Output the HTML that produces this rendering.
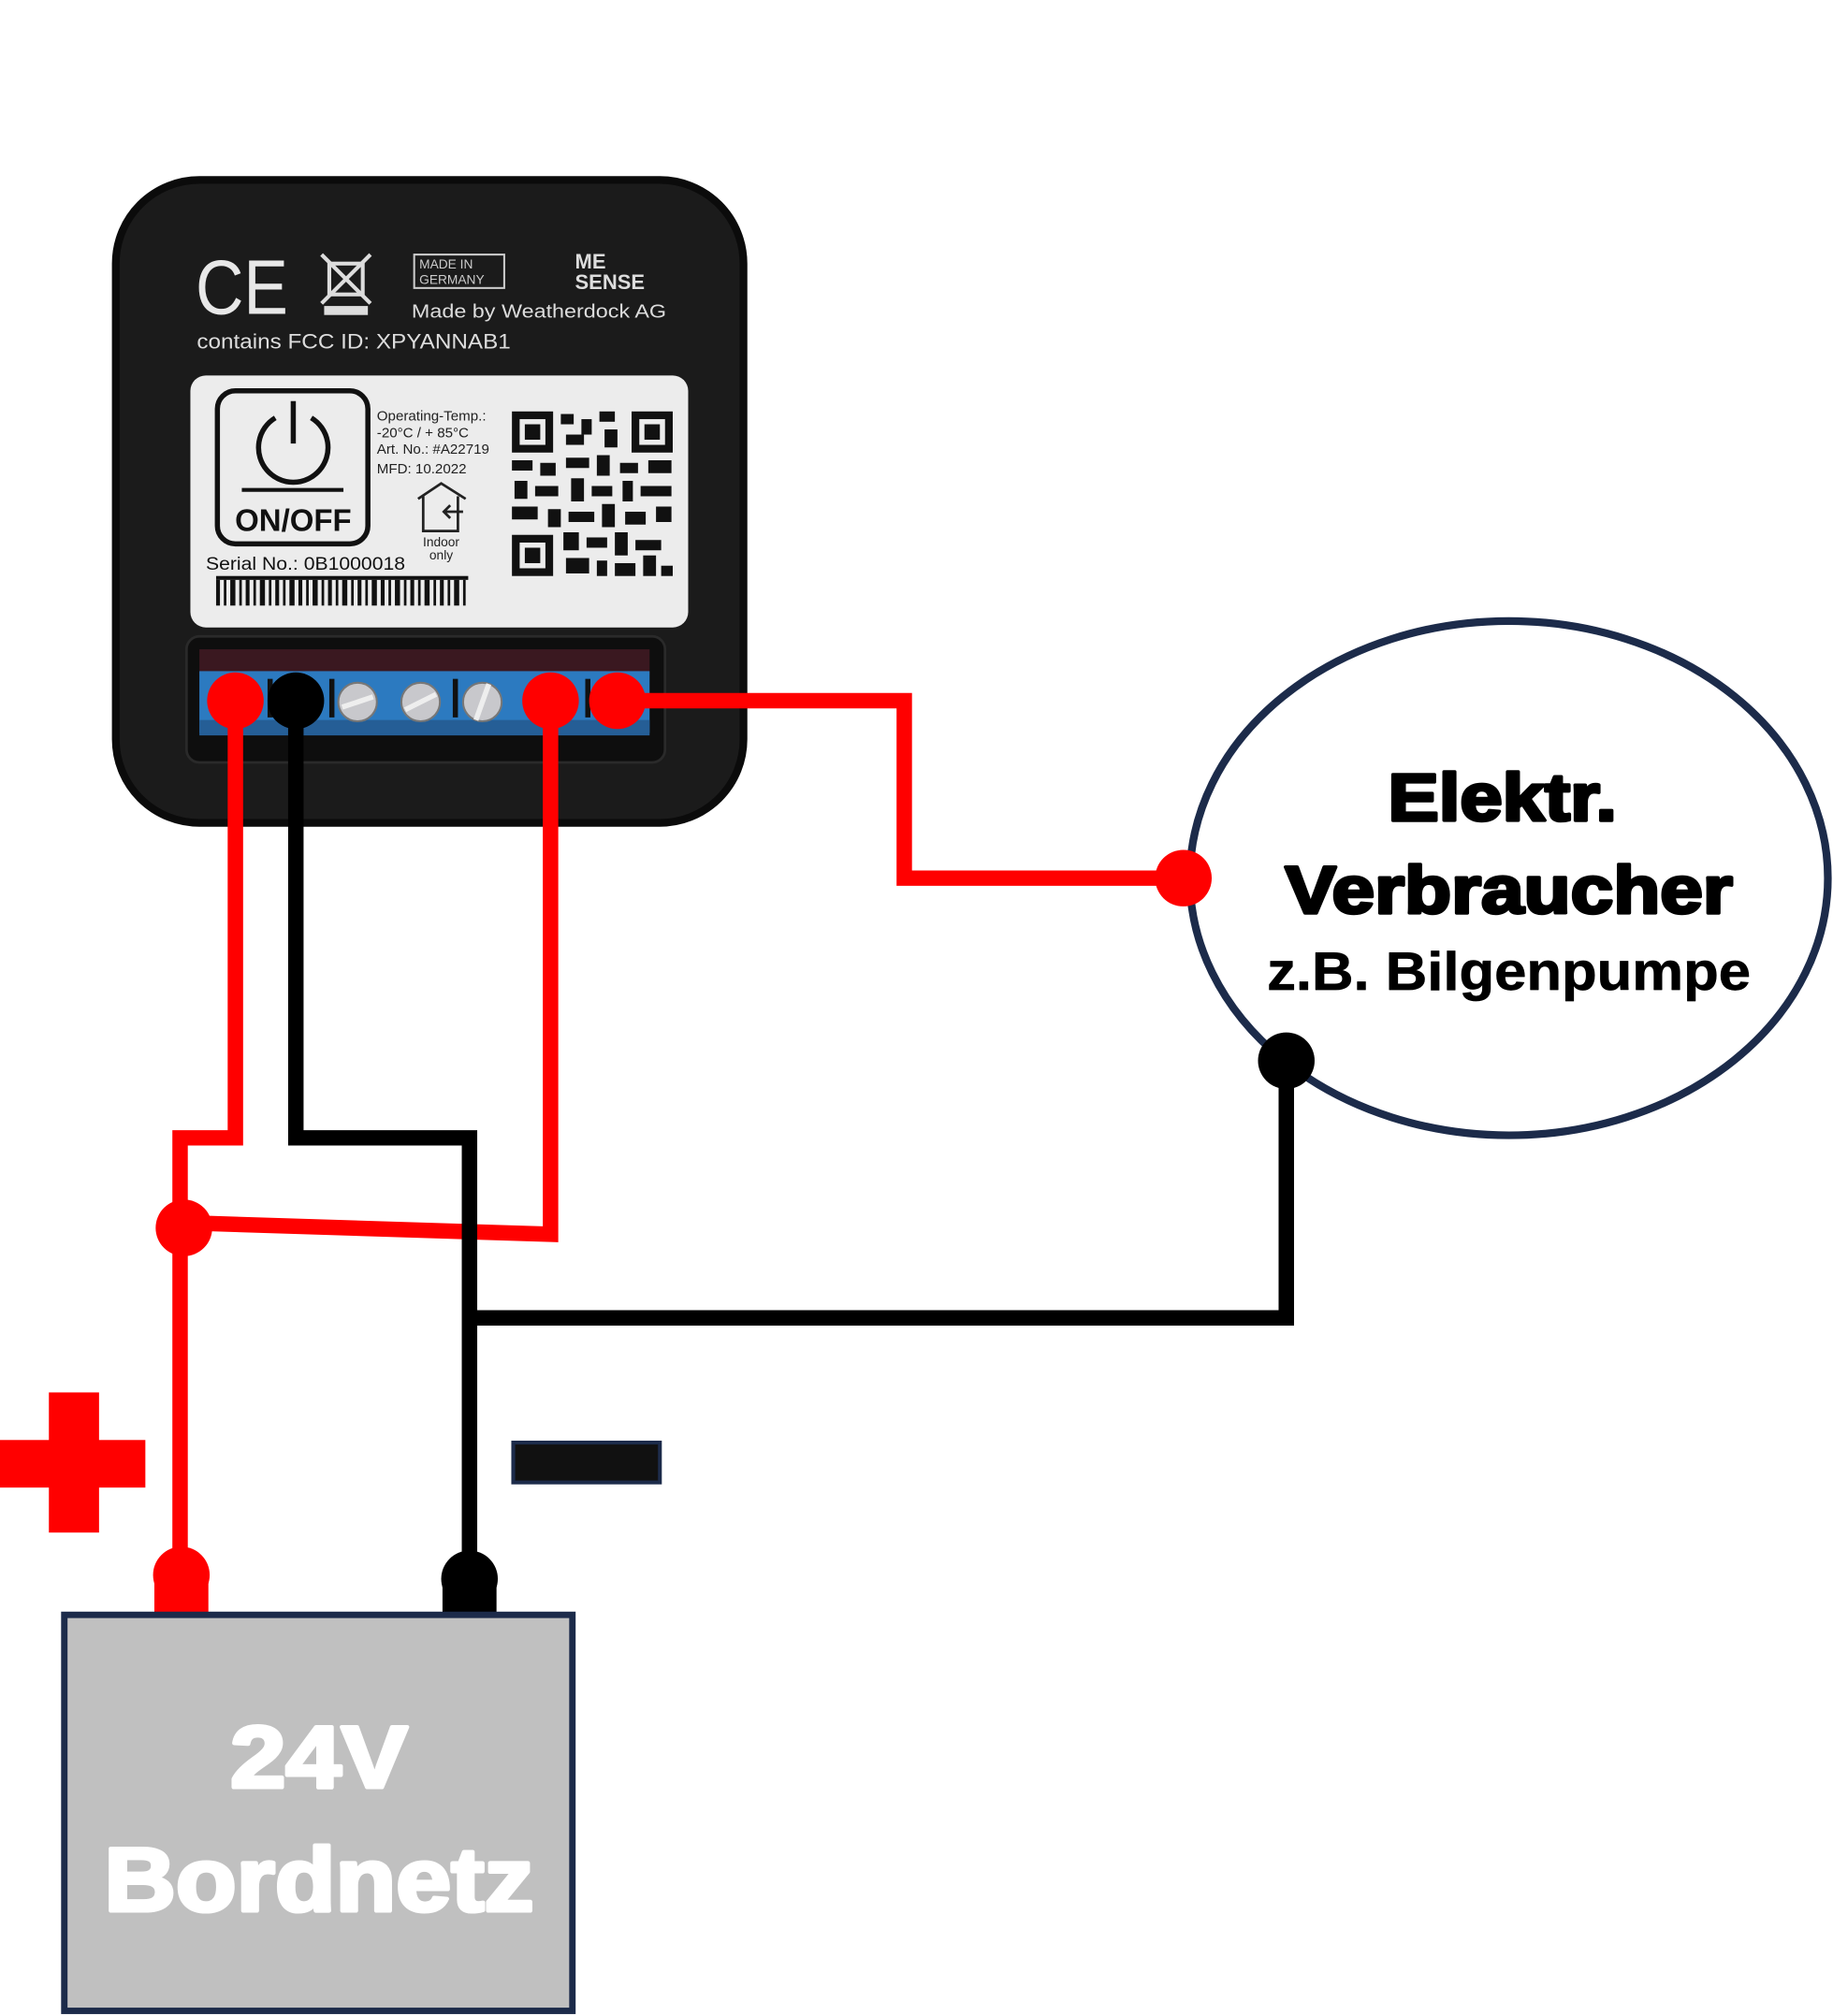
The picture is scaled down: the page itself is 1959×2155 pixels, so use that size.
<!DOCTYPE html>
<html><head><meta charset="utf-8"><style>
html,body{margin:0;padding:0;background:#fff;}
svg{display:block;}
text{font-family:"Liberation Sans",sans-serif;}
</style></head><body>
<svg width="1959" height="2155" viewBox="0 0 1425 1568" preserveAspectRatio="none" xmlns="http://www.w3.org/2000/svg">
<rect width="1425" height="1568" fill="#fff"/>
<!-- device -->
<rect x="90" y="140" width="488" height="500" rx="65" fill="#1b1b1b" stroke="#0b0b0b" stroke-width="6"/>
<text x="152" y="244" font-size="60" fill="#e8e8e8" textLength="72" lengthAdjust="spacingAndGlyphs">CE</text>
<g stroke="#ddd" stroke-width="3" fill="none"><rect x="256" y="205" width="26" height="24"/><line x1="250" y1="198" x2="288" y2="236"/><line x1="288" y1="198" x2="250" y2="236"/></g>
<rect x="252" y="238" width="34" height="7" fill="#ddd"/>
<rect x="322" y="198" width="70" height="26" fill="none" stroke="#ccc" stroke-width="1.5"/>
<text x="326" y="209" font-size="10" fill="#ccc">MADE IN</text>
<text x="326" y="221" font-size="10" fill="#ccc">GERMANY</text>
<text x="447" y="209" font-size="16" fill="#ddd" font-weight="bold">ME</text>
<text x="447" y="225" font-size="16" fill="#ddd" font-weight="bold">SENSE</text>
<text x="320" y="247" font-size="15" fill="#ddd" textLength="198" lengthAdjust="spacingAndGlyphs">Made by Weatherdock AG</text>
<text x="153" y="271" font-size="16" fill="#ddd" textLength="244" lengthAdjust="spacingAndGlyphs">contains FCC ID: XPYANNAB1</text>
<!-- label -->
<rect x="148" y="292" width="387" height="196" rx="12" fill="#ececec"/>
<rect x="169" y="304" width="117" height="119" rx="14" fill="none" stroke="#111" stroke-width="4"/>
<path d="M214 325 A27 27 0 1 0 242 325" fill="none" stroke="#111" stroke-width="4"/>
<line x1="228" y1="312" x2="228" y2="345" stroke="#111" stroke-width="4"/>
<line x1="188" y1="381" x2="267" y2="381" stroke="#111" stroke-width="3"/>
<text x="228" y="413" font-size="24" font-weight="bold" text-anchor="middle" fill="#111">ON/OFF</text>
<g font-size="11" fill="#222"><text x="293" y="327">Operating-Temp.:</text><text x="293" y="340">-20°C / + 85°C</text><text x="293" y="353">Art. No.: #A22719</text><text x="293" y="368">MFD: 10.2022</text></g>
<path d="M325 388 L343 376 L362 388 M329 386 V413 H356 V386 M360 398 H345 M350 393 L345 398 L350 403" fill="none" stroke="#222" stroke-width="2"/>
<text x="343" y="425" font-size="10" text-anchor="middle" fill="#222">Indoor</text>
<text x="343" y="435" font-size="10" text-anchor="middle" fill="#222">only</text>
<text x="160" y="443" font-size="14" fill="#111" textLength="155" lengthAdjust="spacingAndGlyphs">Serial No.: 0B1000018</text>
<g fill="#111">
<rect x="168" y="448" width="196" height="3"/>
<rect x="168" y="451" width="3" height="20"/><rect x="174" y="451" width="2" height="20"/><rect x="179" y="451" width="4" height="20"/><rect x="186" y="451" width="2" height="20"/><rect x="191" y="451" width="3" height="20"/><rect x="197" y="451" width="2" height="20"/><rect x="202" y="451" width="4" height="20"/><rect x="209" y="451" width="2" height="20"/><rect x="214" y="451" width="3" height="20"/><rect x="220" y="451" width="2" height="20"/><rect x="225" y="451" width="4" height="20"/><rect x="232" y="451" width="3" height="20"/><rect x="238" y="451" width="2" height="20"/><rect x="243" y="451" width="4" height="20"/><rect x="250" y="451" width="2" height="20"/><rect x="255" y="451" width="3" height="20"/><rect x="261" y="451" width="2" height="20"/><rect x="266" y="451" width="4" height="20"/><rect x="273" y="451" width="2" height="20"/><rect x="278" y="451" width="3" height="20"/><rect x="284" y="451" width="2" height="20"/><rect x="289" y="451" width="4" height="20"/><rect x="296" y="451" width="3" height="20"/><rect x="302" y="451" width="2" height="20"/><rect x="307" y="451" width="4" height="20"/><rect x="314" y="451" width="2" height="20"/><rect x="319" y="451" width="3" height="20"/><rect x="325" y="451" width="2" height="20"/><rect x="330" y="451" width="4" height="20"/><rect x="337" y="451" width="2" height="20"/><rect x="342" y="451" width="3" height="20"/><rect x="348" y="451" width="2" height="20"/><rect x="353" y="451" width="4" height="20"/><rect x="360" y="451" width="2" height="20"/>
</g>
<!-- QR -->
<g fill="#111">
<rect x="398" y="320" width="32" height="32"/><rect x="404" y="326" width="20" height="20" fill="#ececec"/><rect x="408" y="330" width="12" height="12"/>
<rect x="491" y="320" width="32" height="32"/><rect x="497" y="326" width="20" height="20" fill="#ececec"/><rect x="501" y="330" width="12" height="12"/>
<rect x="398" y="416" width="32" height="32"/><rect x="404" y="422" width="20" height="20" fill="#ececec"/><rect x="408" y="426" width="12" height="12"/>
<rect x="436" y="322" width="10" height="8"/><rect x="452" y="326" width="8" height="12"/><rect x="466" y="320" width="12" height="8"/><rect x="440" y="338" width="14" height="8"/><rect x="470" y="334" width="10" height="14"/>
<rect x="398" y="358" width="16" height="8"/><rect x="420" y="360" width="12" height="10"/><rect x="440" y="356" width="18" height="8"/><rect x="464" y="354" width="10" height="16"/><rect x="482" y="360" width="14" height="8"/><rect x="504" y="358" width="18" height="10"/>
<rect x="400" y="374" width="10" height="14"/><rect x="416" y="378" width="18" height="8"/><rect x="444" y="372" width="10" height="18"/><rect x="460" y="378" width="16" height="8"/><rect x="484" y="374" width="8" height="16"/><rect x="498" y="378" width="24" height="8"/>
<rect x="398" y="394" width="20" height="10"/><rect x="426" y="396" width="10" height="14"/><rect x="442" y="398" width="20" height="8"/><rect x="468" y="392" width="10" height="18"/><rect x="486" y="398" width="16" height="10"/><rect x="510" y="394" width="12" height="12"/>
<rect x="438" y="414" width="12" height="14"/><rect x="456" y="418" width="16" height="8"/><rect x="478" y="414" width="10" height="18"/><rect x="494" y="420" width="20" height="8"/>
<rect x="440" y="434" width="18" height="12"/><rect x="464" y="436" width="8" height="12"/><rect x="478" y="438" width="16" height="10"/><rect x="500" y="432" width="10" height="16"/><rect x="514" y="440" width="9" height="8"/>
</g>
<!-- terminal area -->
<rect x="145" y="495" width="372" height="98" rx="10" fill="#0e0e0e" stroke="#2a2a2a" stroke-width="2"/>
<rect x="155" y="505" width="350" height="20" fill="#3a1820"/>
<rect x="155" y="522" width="350" height="48" fill="#2c7ac0"/>
<rect x="155" y="560" width="350" height="12" fill="#255e96"/>
<g fill="#111"><rect x="208" y="528" width="4" height="30"/><rect x="256" y="528" width="4" height="30"/><rect x="352" y="528" width="4" height="30"/><rect x="455" y="528" width="4" height="30"/></g>
<g fill="#c8c8cc" stroke="#777" stroke-width="1.5"><circle cx="278" cy="546" r="15"/><circle cx="327" cy="546" r="15"/><circle cx="375" cy="546" r="15"/></g>
<g stroke="#eee" stroke-width="4"><line x1="266" y1="550" x2="290" y2="542"/><line x1="315" y1="552" x2="339" y2="540"/><line x1="370" y1="560" x2="380" y2="532"/></g>
<!-- ellipse -->
<ellipse cx="1173" cy="683" rx="248" ry="200" fill="#fff" stroke="#1c2b4a" stroke-width="6"/>
<g font-weight="bold" text-anchor="middle" fill="#000" stroke="#000" stroke-linejoin="round">
<text x="1168" y="638" font-size="52" stroke-width="2.5" textLength="178" lengthAdjust="spacingAndGlyphs">Elektr.</text>
<text x="1173" y="710" font-size="52" stroke-width="2.5" textLength="348" lengthAdjust="spacingAndGlyphs">Verbraucher</text>
<text x="1173" y="770" font-size="42" stroke-width="0.5" textLength="376" lengthAdjust="spacingAndGlyphs">z.B. Bilgenpumpe</text>
</g>
<!-- wires -->
<g fill="none" stroke-width="12" stroke-linejoin="miter">
<polyline points="183,545 183,885 140,885 140,1228" stroke="#f00"/>
<polyline points="428,545 428,960 143,951" stroke="#f00"/>
<polyline points="480,545 703,545 703,683 920,683" stroke="#f00"/>
<polyline points="230,545 230,885 365,885 365,1232" stroke="#000"/>
<polyline points="365,1025 1000,1025 1000,825" stroke="#000"/>
</g>
<g fill="#f00"><circle cx="183" cy="545" r="22"/><circle cx="428" cy="545" r="22"/><circle cx="480" cy="545" r="22"/><circle cx="920" cy="683" r="22"/><circle cx="143" cy="955" r="22"/><circle cx="141" cy="1225" r="22"/><rect x="120" y="1225" width="42" height="32"/></g>
<g fill="#000"><circle cx="230" cy="545" r="22"/><circle cx="1000" cy="825" r="22"/><circle cx="365" cy="1228" r="22"/><rect x="344" y="1228" width="42" height="30"/></g>
<!-- plus / minus -->
<rect x="0" y="1120" width="113" height="37" fill="#f00"/>
<rect x="38" y="1083" width="39" height="109" fill="#f00"/>
<rect x="399" y="1122" width="114" height="31" fill="#111" stroke="#1c2b4a" stroke-width="3"/>
<!-- battery -->
<rect x="50" y="1256" width="395" height="308" fill="#c0c0c0" stroke="#1c2b4a" stroke-width="5"/>
<g font-weight="bold" text-anchor="middle" fill="#fff" stroke="#fff" stroke-width="3" stroke-linejoin="round">
<text x="248" y="1390" font-size="68" textLength="138" lengthAdjust="spacingAndGlyphs">24V</text>
<text x="248" y="1486" font-size="70" textLength="334" lengthAdjust="spacingAndGlyphs">Bordnetz</text>
</g>
</svg>
</body></html>
